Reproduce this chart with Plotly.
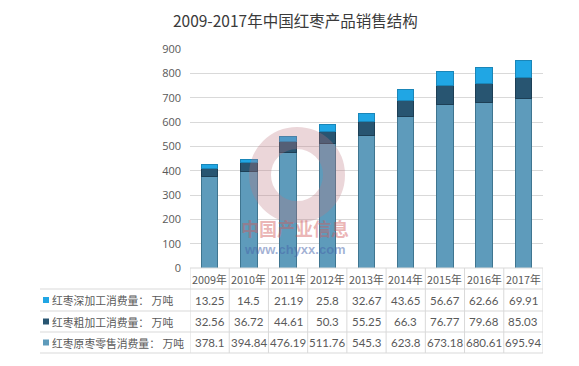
import plotly.graph_objects as go

years = ["2009年", "2010年", "2011年", "2012年", "2013年", "2014年", "2015年", "2016年", "2017年"]
raw_retail = [378.1, 394.84, 476.19, 511.76, 545.3, 623.8, 673.18, 680.61, 695.94]
rough_proc = [32.56, 36.72, 44.61, 50.3, 55.25, 66.3, 76.77, 79.68, 85.03]
deep_proc = [13.25, 14.5, 21.19, 25.8, 32.67, 43.65, 56.67, 62.66, 69.91]
series_names = ["红枣原枣零售消费量：万吨", "红枣粗加工消费量：万吨", "红枣深加工消费量：万吨"]
y_ticks = [0, 100, 200, 300, 400, 500, 600, 700, 800, 900]

W, H = 579, 366
L, R, T, B = 190, 36, 49, 98
PW, PH = W - L - R, H - T - B

def py(Y):  # pixel Y -> paper y
    return (H - B - Y) / PH

def px(X):  # pixel X -> paper x
    return (X - L) / PW

colors = ["#5e9bbb", "#285571", "#20a6e4"]
line_cols = ["#3f7590", "#1d3f55", "#1a86b8"]
series = [raw_retail, rough_proc, deep_proc]

fig = go.Figure()
for name, vals, c, lc in zip(series_names, series, colors, line_cols):
    fig.add_trace(go.Bar(x=list(range(len(years))), y=vals, name=name,
                         marker=dict(color=c, line=dict(color=lc, width=1)),
                         hoverinfo="y"))

grid = "#d9d9d9"
txt = "#595959"
font_cjk = "Noto Sans CJK SC"
font_num = "Lato"
shapes = []
annots = []

# table geometry (pixels)
row_lines = [289, 311, 332, 353]
header_c = 279
row_c = [300, 321.5, 342.5]
n = len(years)

# horizontal lines
shapes.append(dict(type="line", xref="x", yref="paper", x0=-0.5, x1=n - 0.5,
                   y0=py(268), y1=py(268), line=dict(color=grid, width=1)))
for Y in row_lines:
    shapes.append(dict(type="line", xref="paper", yref="paper", x0=px(40), x1=1,
                       y0=py(Y), y1=py(Y), line=dict(color=grid, width=1)))
# vertical lines
for i in range(n + 1):
    shapes.append(dict(type="line", xref="x", yref="paper", x0=i - 0.5, x1=i - 0.5,
                       y0=py(268), y1=py(353), line=dict(color=grid, width=1)))

# header
for i, yr in enumerate(years):
    annots.append(dict(x=i, y=py(header_c), xref="x", yref="paper", text=yr,
                       showarrow=False, yanchor="middle",
                       font=dict(size=10.8, color=txt, family=font_cjk)))

# rows: top = deep, then rough, then raw
table_rows = [(series_names[2], deep_proc, colors[2]),
              (series_names[1], rough_proc, colors[1]),
              (series_names[0], raw_retail, colors[0])]
for (name, vals, c), Yc in zip(table_rows, row_c):
    shapes.append(dict(type="rect", xref="paper", yref="paper",
                       x0=px(43), x1=px(49), y0=py(Yc - 3), y1=py(Yc + 3),
                       fillcolor=c, line=dict(color=c, width=0)))
    annots.append(dict(x=px(50), y=py(Yc), xref="paper", yref="paper", text=name.replace("：", "： "),
                       showarrow=False, xanchor="left", yanchor="middle",
                       font=dict(size=10.8, color=txt, family=font_cjk)))
    for i, v in enumerate(vals):
        annots.append(dict(x=i, y=py(Yc), xref="x", yref="paper", text=f"{v:g}",
                           showarrow=False, yanchor="middle",
                           font=dict(size=11.5, color=txt, family=font_num)))

# watermark
shapes.append(dict(type="circle", xref="paper", yref="paper",
                   x0=px(260), x1=px(334), y0=py(212), y1=py(138),
                   line=dict(color="rgba(190,120,130,0.30)", width=22), layer="above"))
annots.append(dict(x=px(295), y=py(228), xref="paper", yref="paper", text="<b>中国产业信息</b>",
                   showarrow=False, xanchor="center", yanchor="middle",
                   font=dict(size=18, color="rgba(210,90,90,0.45)", family=font_cjk)))
annots.append(dict(x=px(295), y=py(249), xref="paper", yref="paper", text="<b>www.chyxx.com</b>",
                   showarrow=False, xanchor="center", yanchor="middle",
                   font=dict(size=13, color="rgba(70,100,170,0.5)", family="Liberation Sans")))

fig.update_layout(
    width=W, height=H,
    margin=dict(l=L, r=R, t=T, b=B, autoexpand=False),
    paper_bgcolor="white", plot_bgcolor="white",
    barmode="stack", bargap=0.58,
    showlegend=False,
    title=dict(text="2009-2017年中国红枣产品销售结构", x=0.51, xanchor="center",
               y=1 - 22 / H, yanchor="middle",
               font=dict(size=15.5, color="#3a3a3a", family=font_cjk)),
    xaxis=dict(range=[-0.5, n - 0.5], showticklabels=False, showgrid=False,
               zeroline=False, showline=False, ticks=""),
    yaxis=dict(range=[0, 900], tickvals=y_ticks, showgrid=True, gridcolor=grid,
               zeroline=False, showline=False, ticks="", ticklabelstandoff=8,
               tickfont=dict(size=11, color=txt, family="Open Sans")),
    shapes=shapes, annotations=annots,
)

fig.write_html("out.html", config={"displayModeBar": False},
               post_script="document.body.style.margin='0';document.body.style.overflow='hidden';")
